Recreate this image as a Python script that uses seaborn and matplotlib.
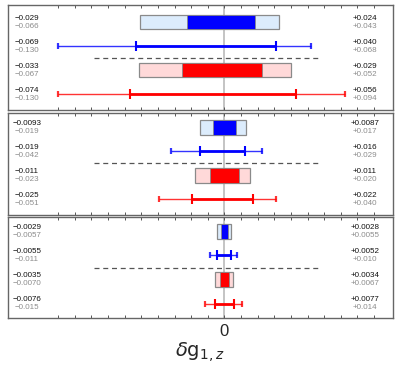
import matplotlib
matplotlib.use("Agg")
import matplotlib.pyplot as plt
import seaborn as sns
import numpy as np

sns.set_theme(style="white")
plt.rcParams['font.family'] = ['Liberation Sans', 'DejaVu Sans']
plt.rcParams['mathtext.fontset'] = 'dejavusans'

# --- data: one entry per panel ---
# blue box (inner / outer), blue error bar (inner / outer),
# red box (inner / outer), red error bar (inner / outer)
blue_box_in = [(-0.029, 0.024), (-0.0093, 0.0087), (-0.0029, 0.0028)]
blue_box_out = [(-0.066, 0.043), (-0.019, 0.017), (-0.0057, 0.0055)]
blue_err_in = [(-0.069, 0.040), (-0.019, 0.016), (-0.0055, 0.0052)]
blue_err_out = [(-0.130, 0.068), (-0.042, 0.029), (-0.011, 0.010)]
red_box_in = [(-0.033, 0.029), (-0.011, 0.011), (-0.0035, 0.0034)]
red_box_out = [(-0.067, 0.052), (-0.023, 0.020), (-0.0070, 0.0067)]
red_err_in = [(-0.074, 0.056), (-0.025, 0.022), (-0.0076, 0.0077)]
red_err_out = [(-0.130, 0.094), (-0.051, 0.040), (-0.015, 0.014)]

# text labels (as printed in the chart)
lo_in_txt = [["\u22120.029", "\u22120.069", "\u22120.033", "\u22120.074"],
             ["\u22120.0093", "\u22120.019", "\u22120.011", "\u22120.025"],
             ["\u22120.0029", "\u22120.0055", "\u22120.0035", "\u22120.0076"]]
lo_out_txt = [["\u22120.066", "\u22120.130", "\u22120.067", "\u22120.130"],
              ["\u22120.019", "\u22120.042", "\u22120.023", "\u22120.051"],
              ["\u22120.0057", "\u22120.011", "\u22120.0070", "\u22120.015"]]
hi_in_txt = [["+0.024", "+0.040", "+0.029", "+0.056"],
             ["+0.0087", "+0.016", "+0.011", "+0.022"],
             ["+0.0028", "+0.0052", "+0.0034", "+0.0077"]]
hi_out_txt = [["+0.043", "+0.068", "+0.052", "+0.094"],
              ["+0.017", "+0.029", "+0.020", "+0.040"],
              ["+0.0055", "+0.010", "+0.0067", "+0.014"]]

BLUE, LBLUE = "#0000ff", "#dcecfc"
RED, LRED = "#ff0000", "#ffd9d9"
EDGE = "#8a8a8a"

fig = plt.figure(figsize=(3.99, 3.70), dpi=100)
boxes = [(0.0188, 0.7027, 0.966, 0.2838),
         (0.0188, 0.4189, 0.966, 0.2757),
         (0.0188, 0.1405, 0.966, 0.2730)]
ylims = [(4.66, 0.30), (4.65, 0.40), (4.6, 0.4)]
ticks = np.arange(-10, 10) * 0.013

for p, rect in enumerate(boxes):
    ax = fig.add_axes(rect)
    ax.set_xlim(-0.1697, 0.1318)
    ax.set_ylim(*ylims[p])

    ax.axvline(0, color="#c4c4c4", lw=1.4, zorder=0)

    # boxes
    for row, outer, inner, dark, light in [(1, blue_box_out, blue_box_in, BLUE, LBLUE),
                                           (3, red_box_out, red_box_in, RED, LRED)]:
        lo, hi = outer[p]
        ax.barh(row, hi - lo, left=lo, height=0.6, color=light,
                edgecolor=EDGE, linewidth=0.9, zorder=2)
        lo, hi = inner[p]
        ax.barh(row, hi - lo, left=lo, height=0.6, color=dark,
                edgecolor=EDGE, linewidth=0.6, zorder=3)

    # error bars
    for row, outer, inner, col in [(2, blue_err_out, blue_err_in, BLUE),
                                   (4, red_err_out, red_err_in, RED)]:
        lo, hi = outer[p]
        ax.errorbar([0], [row], xerr=[[-lo], [hi]], fmt="none", ecolor=col,
                    elinewidth=1.0, capsize=2.0, capthick=1.6, alpha=0.8, zorder=2)
        lo, hi = inner[p]
        ax.errorbar([0], [row], xerr=[[-lo], [hi]], fmt="none", ecolor=col,
                    elinewidth=2.0, capsize=3.3, capthick=1.5, zorder=3)

    # dashed separator
    ax.plot([0.225, 0.812], [2.5, 2.5], transform=ax.get_yaxis_transform(),
            ls=(0, (4, 3)), color="#555555", lw=0.9)

    # value labels
    tr = ax.get_yaxis_transform()
    for r in range(4):
        y = r + 1
        ax.text(0.0506, y - 0.16, lo_in_txt[p][r], transform=tr,
                ha="center", va="center", fontsize=5.8, color="#111111")
        ax.text(0.0506, y + 0.18, lo_out_txt[p][r], transform=tr,
                ha="center", va="center", fontsize=5.8, color="#8c8c8c")
        ax.text(0.927, y - 0.16, hi_in_txt[p][r], transform=tr,
                ha="center", va="center", fontsize=5.8, color="#111111")
        ax.text(0.927, y + 0.18, hi_out_txt[p][r], transform=tr,
                ha="center", va="center", fontsize=5.8, color="#8c8c8c")

    ax.set_yticks([])
    ax.set_xticks(ticks)
    ax.tick_params(axis="x", direction="in", length=2.5, width=0.7, color="#555555",
                   top=True, bottom=True, labelsize=12, pad=4)
    if p == 2:
        ax.set_xticklabels(["0" if abs(t) < 1e-9 else "" for t in ticks])
        ax.set_xlabel(r"$\delta\mathrm{g}_{1,z}$", fontsize=14, labelpad=1)
    else:
        ax.set_xticklabels([])
    for s in ax.spines.values():
        s.set_color("#666666")
        s.set_linewidth(1.0)

fig.savefig("out.png", dpi=100)
